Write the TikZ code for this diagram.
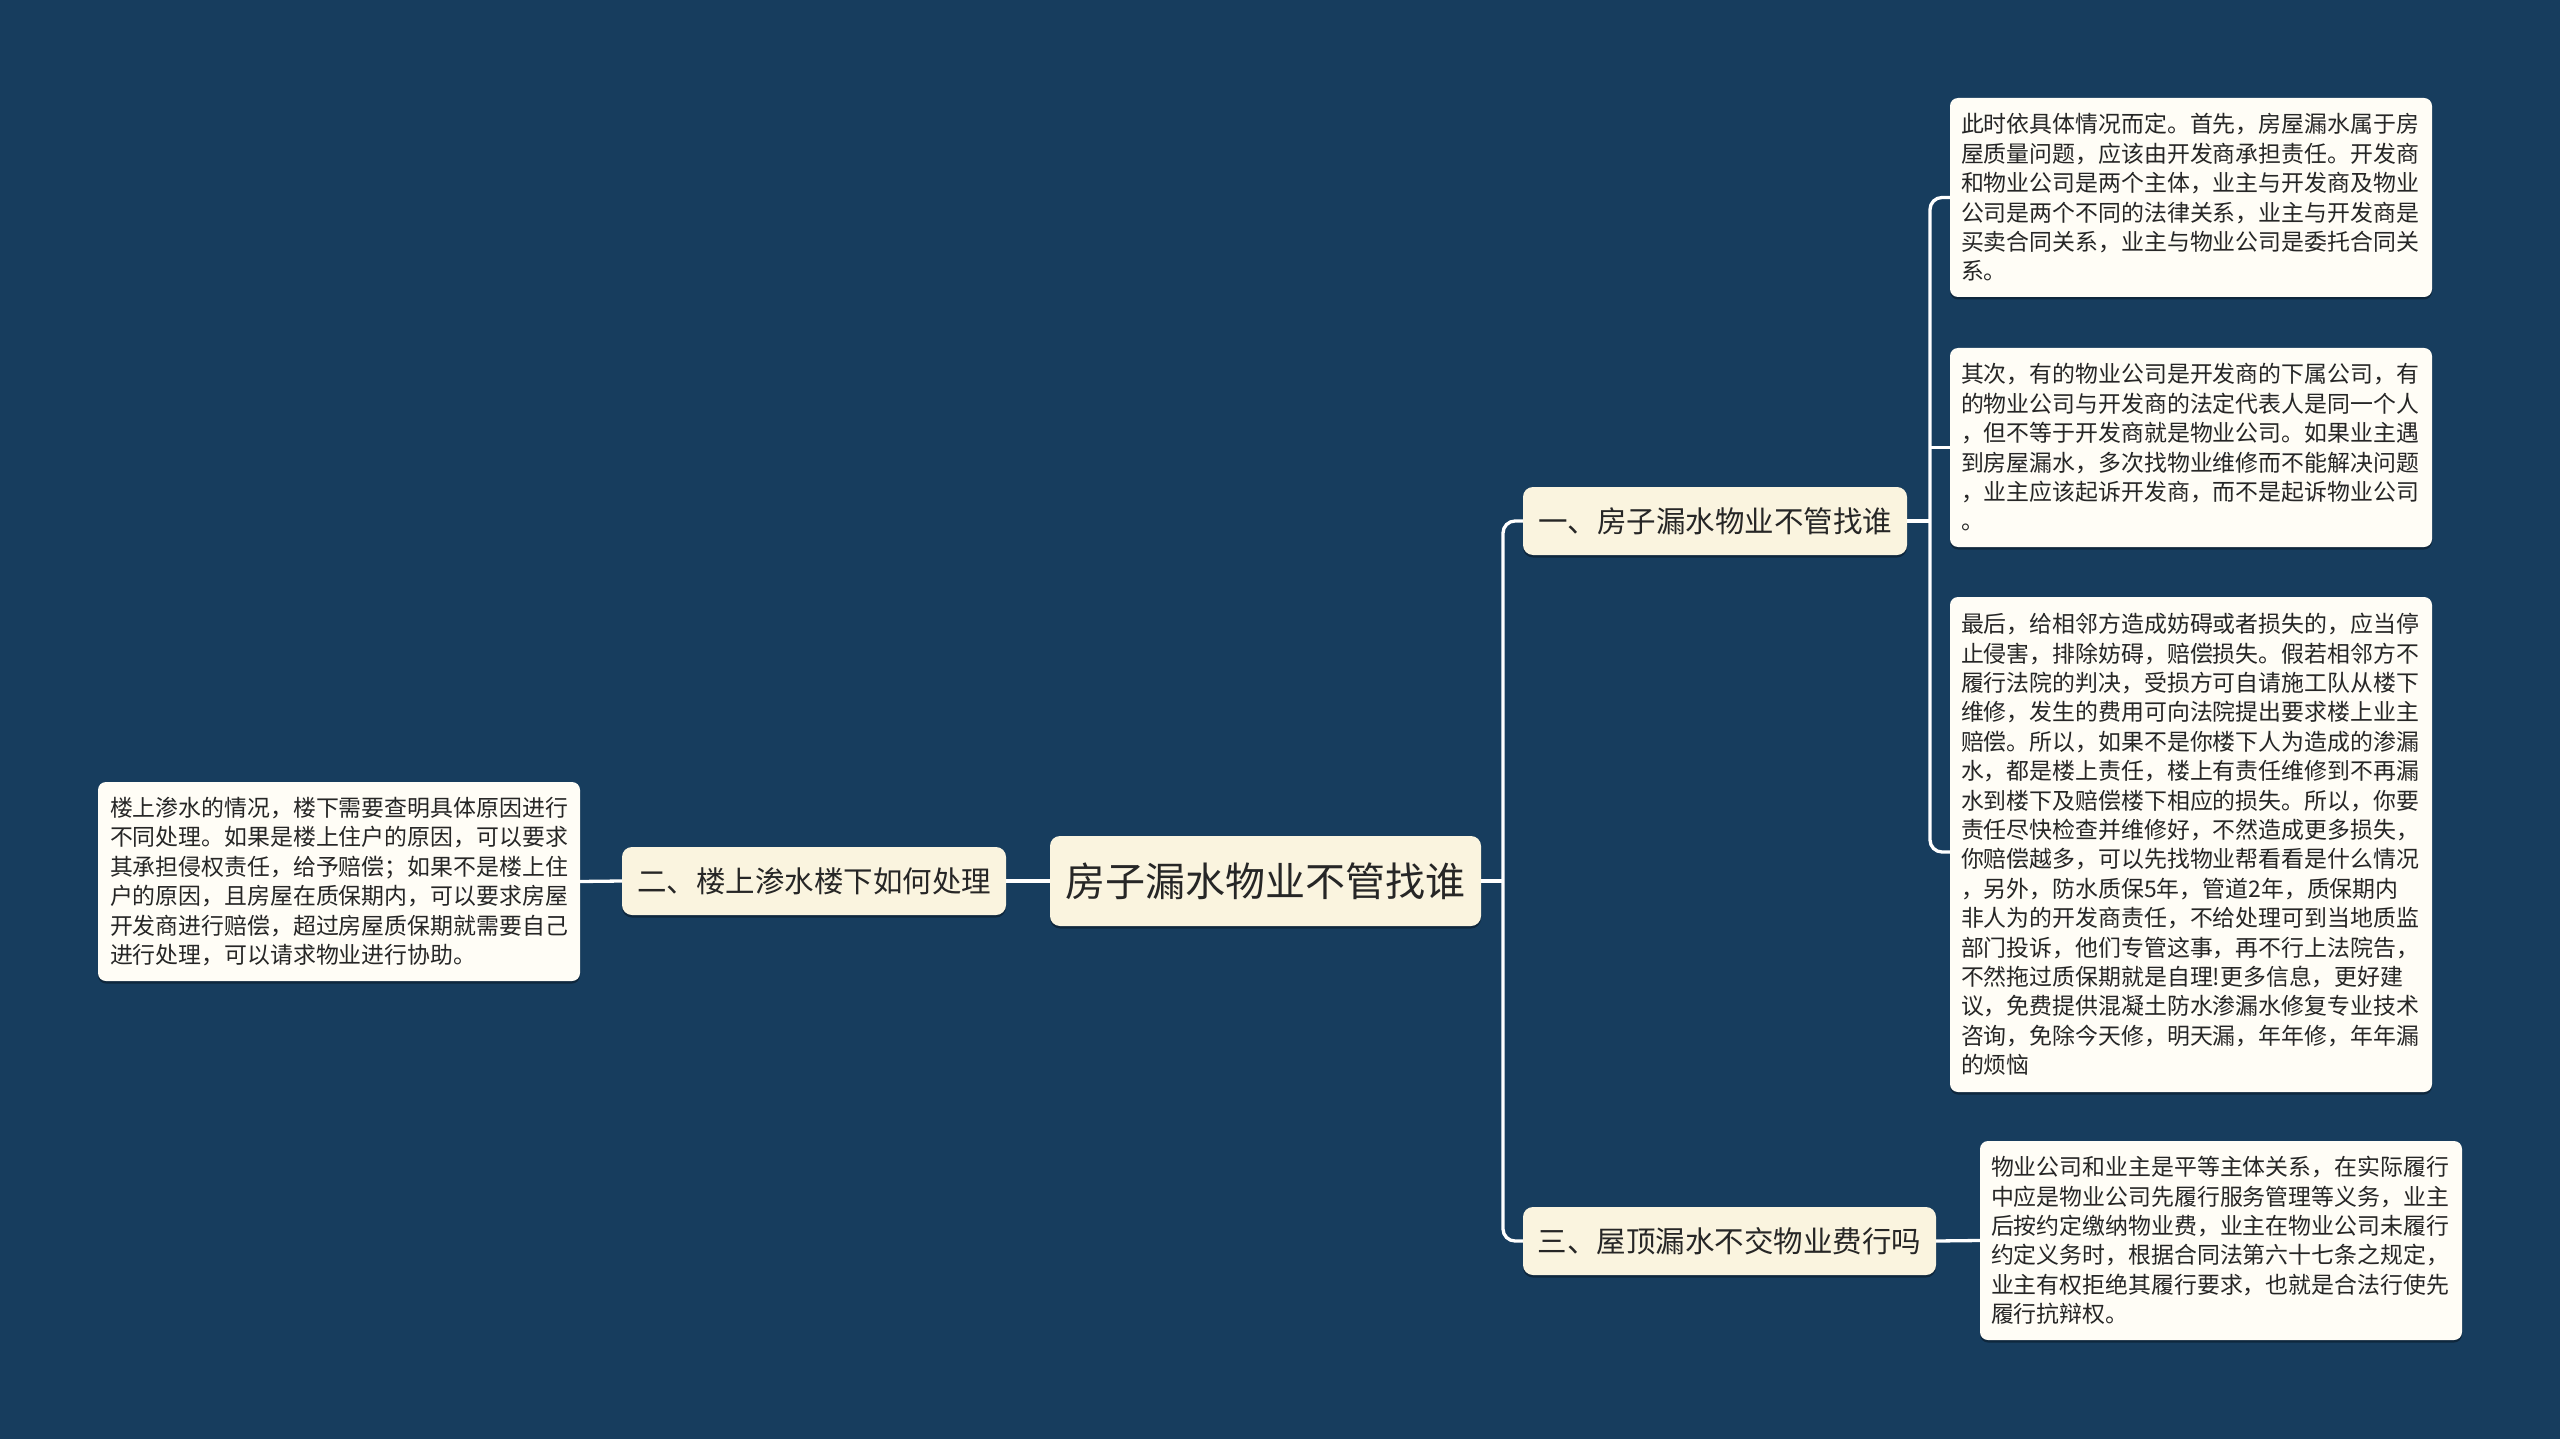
\documentclass[tikz,border=0pt]{standalone}
\usepackage{fontspec}
\setmainfont{Noto Sans CJK SC}
\usetikzlibrary{shadows}
\definecolor{bg}{HTML}{173D5E}
\definecolor{topicfill}{HTML}{FAF4DF}
\definecolor{boxfill}{HTML}{FFFDF6}
\definecolor{txt}{HTML}{262626}
\begin{document}
\begin{tikzpicture}[x=1pt,y=-1pt,
  conn/.style={draw=white, line width=3.3pt, rounded corners=12pt},
  shade1/.style={drop shadow={shadow xshift=0pt, shadow yshift=-2.5pt, opacity=0.35, fill=black}},
  topic/.style={fill=topicfill, rounded corners=10pt, text=txt, inner sep=0pt, shade1,
    minimum height=68pt, font=\fontsize{29.5pt}{34pt}\selectfont},
  roottopic/.style={topic, minimum height=90pt, font=\fontsize{40pt}{46pt}\selectfont},
  textbox/.style={fill=boxfill, rounded corners=8pt, text=txt, shade1,
    inner xsep=11pt, inner ysep=0pt, text width=460pt, align=left,
    minimum width=482pt, font=\fontsize{22.9pt}{29.4pt}\selectfont}
]
\fill[bg] (0,0) rectangle (2560,1439);
\useasboundingbox (0,0) rectangle (2560,1439);

% nodes
\node[roottopic, minimum width=431pt] (root) at (1265.5,881) {房子漏水物业不管找谁};
\node[topic, minimum width=384pt] (n2) at (814,881) {二、楼上渗水楼下如何处理};
\node[topic, minimum width=384pt] (n1) at (1715,521) {一、房子漏水物业不管找谁};
\node[topic, minimum width=413pt] (n3) at (1729.5,1241) {三、屋顶漏水不交物业费行吗};

\node[textbox, minimum height=199pt, inner xsep=12pt, text width=458pt] (lbox) at (339,881.5) {楼上渗水的情况，楼下需要查明具体原因进行\\不同处理。如果是楼上住户的原因，可以要求\\其承担侵权责任，给予赔偿；如果不是楼上住\\户的原因，且房屋在质保期内，可以要求房屋\\开发商进行赔偿，超过房屋质保期就需要自己\\进行处理，可以请求物业进行协助。};

\node[textbox, minimum height=199pt] (box1) at (2191,197.5) {此时依具体情况而定。首先，房屋漏水属于房\\屋质量问题，应该由开发商承担责任。开发商\\和物业公司是两个主体，业主与开发商及物业\\公司是两个不同的法律关系，业主与开发商是\\买卖合同关系，业主与物业公司是委托合同关\\系。};

\node[textbox, minimum height=199pt] (box2) at (2191,447.5) {其次，有的物业公司是开发商的下属公司，有\\的物业公司与开发商的法定代表人是同一个人\\，但不等于开发商就是物业公司。如果业主遇\\到房屋漏水，多次找物业维修而不能解决问题\\，业主应该起诉开发商，而不是起诉物业公司\\。};

\node[textbox, minimum height=495pt] (box3) at (2191,844.5) {最后，给相邻方造成妨碍或者损失的，应当停\\止侵害，排除妨碍，赔偿损失。假若相邻方不\\履行法院的判决，受损方可自请施工队从楼下\\维修，发生的费用可向法院提出要求楼上业主\\赔偿。所以，如果不是你楼下人为造成的渗漏\\水，都是楼上责任，楼上有责任维修到不再漏\\水到楼下及赔偿楼下相应的损失。所以，你要\\责任尽快检查并维修好，不然造成更多损失，\\你赔偿越多，可以先找物业帮看看是什么情况\\，另外，防水质保5年，管道2年，质保期内\\非人为的开发商责任，不给处理可到当地质监\\部门投诉，他们专管这事，再不行上法院告，\\不然拖过质保期就是自理!更多信息，更好建\\议，免费提供混凝土防水渗漏水修复专业技术\\咨询，免除今天修，明天漏，年年修，年年漏\\的烦恼};

\node[textbox, minimum height=199pt] (box4) at (2221,1240.5) {物业公司和业主是平等主体关系，在实际履行\\中应是物业公司先履行服务管理等义务，业主\\后按约定缴纳物业费，业主在物业公司未履行\\约定义务时，根据合同法第六十七条之规定，\\业主有权拒绝其履行要求，也就是合法行使先\\履行抗辩权。};

% connectors
\coordinate (busR) at (1503,881);
\coordinate (bus1) at (1930,521);
\begin{scope}[on background layer/.try]
\end{scope}
\draw[conn] (root.east) -- (busR);
\draw[conn] (n1.west) -| (busR) |- (n3.west);
\draw[conn] (root.west) -- (n2.east);
\draw[conn] (n2.west) -- (lbox.east);
\draw[conn] (n1.east) -- (bus1);
\draw[conn] (box1.west) -| (bus1) |- ([yshift=-7.5pt]box3.west);
\draw[conn] (box2.west) -- (box2.west -| bus1);
\draw[conn] (n3.east) -- (box4.west);
\end{tikzpicture}
\end{document}
